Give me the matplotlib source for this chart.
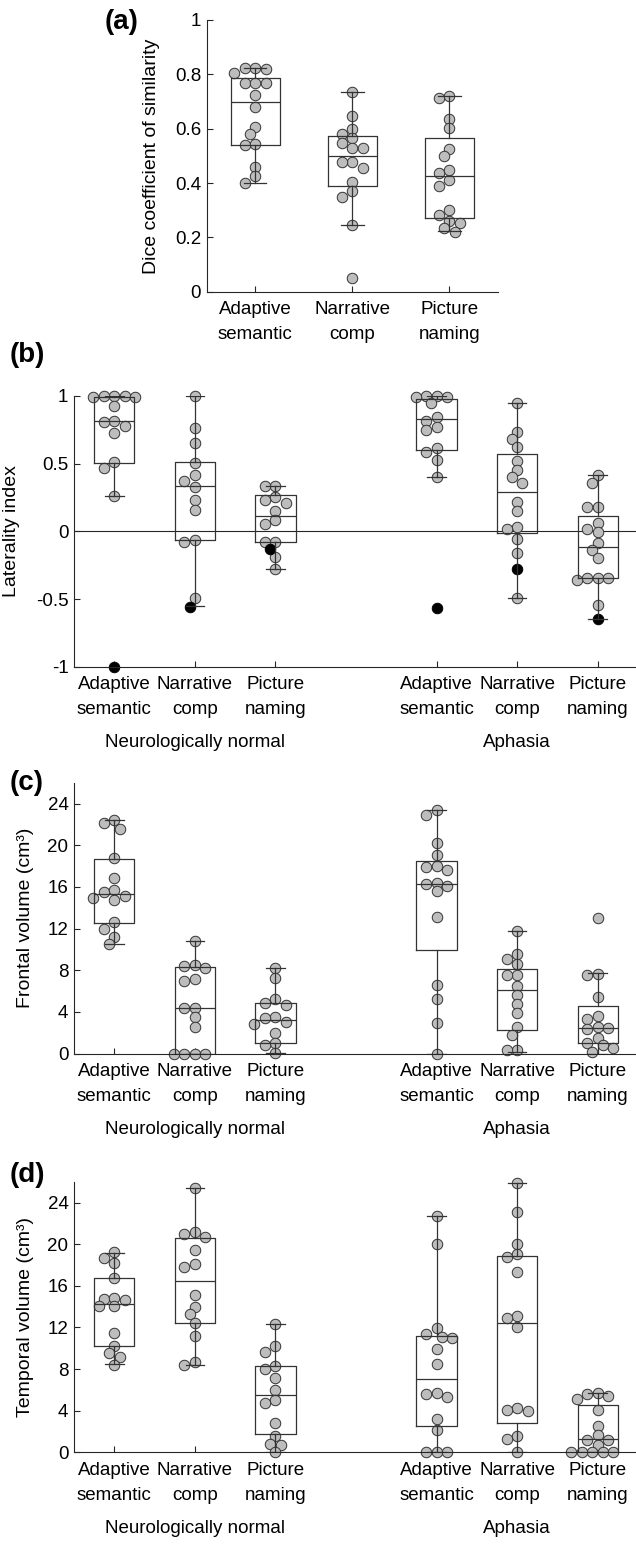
import numpy as np
import matplotlib
matplotlib.use("Agg")
import matplotlib.pyplot as plt

plt.rcParams['font.family'] = ['Liberation Sans', 'DejaVu Sans']

# ---------------- data ----------------
tasks = ["Adaptive\nsemantic", "Narrative\ncomp", "Picture\nnaming"]
groups = ["Neurologically normal", "Aphasia"]

# (a) Dice coefficient
a_adapt = [0.804, 0.822, 0.818, 0.822, 0.767, 0.767, 0.769, 0.724, 0.678, 0.607, 0.582, 0.539, 0.542, 0.459, 0.425, 0.401]
a_narr = [0.736, 0.647, 0.600, 0.582, 0.567, 0.549, 0.529, 0.529, 0.455, 0.478, 0.478, 0.404, 0.370, 0.348, 0.244, 0.049]
a_pict = [0.714, 0.720, 0.636, 0.604, 0.524, 0.498, 0.412, 0.437, 0.447, 0.388, 0.302, 0.281, 0.260, 0.254, 0.235, 0.219]
a_q1 = [0.539, 0.390, 0.272]
a_med = [0.700, 0.500, 0.426]
a_q3 = [0.785, 0.574, 0.564]
a_lo = [0.401, 0.246, 0.222]
a_hi = [0.822, 0.736, 0.720]

# (b) Laterality index
b_nn_adapt = [1.0, 1.0, 1.0, 0.995, 0.995, 0.926, 0.815, 0.81, 0.775, 0.724, 0.51, 0.47, 0.264]
b_nn_narr = [1.0, 0.766, 0.65, 0.507, 0.416, 0.37, 0.33, 0.235, 0.158, -0.064, -0.081, -0.495]
b_nn_pict = [0.335, 0.335, 0.256, 0.232, 0.21, 0.15, 0.084, 0.054, -0.076, -0.076, -0.192, -0.276]
b_aph_adapt = [1.0, 1.0, 0.995, 0.995, 0.946, 0.847, 0.818, 0.773, 0.749, 0.618, 0.589, 0.527, 0.399]
b_aph_narr = [0.946, 0.736, 0.68, 0.62, 0.52, 0.453, 0.40, 0.36, 0.22, 0.15, 0.034, 0.02, -0.06, -0.163, -0.49]
b_aph_pict = [0.416, 0.355, 0.177, 0.177, 0.059, 0.015, -0.005, -0.089, -0.138, -0.2, -0.342, -0.342, -0.345, -0.36, -0.544]
b_black = [-1.0, -0.557, -0.128, -0.564, -0.281, -0.648]
b_q1 = [0.502, -0.064, -0.079, 0.60, -0.015, -0.347]
b_med = [0.818, 0.335, 0.116, 0.83, 0.288, -0.113]
b_q3 = [0.99, 0.51, 0.268, 0.975, 0.569, 0.113]
b_lo = [0.264, -0.552, -0.276, 0.40, -0.49, -0.648]
b_hi = [1.0, 1.0, 0.335, 1.0, 0.946, 0.416]

# (c) Frontal volume
c_nn_adapt = [22.1, 22.4, 21.6, 18.75, 16.9, 15.5, 15.7, 15.1, 14.7, 14.9, 12.6, 12.0, 11.2, 10.55]
c_nn_narr = [10.77, 8.5, 8.4, 8.26, 7.14, 6.98, 4.33, 4.4, 3.53, 2.57, 0, 0, 0, 0]
c_nn_pict = [8.26, 7.27, 5.2, 4.87, 4.65, 3.47, 3.44, 3.05, 2.83, 2.0, 1.0, 0.8, 0.05]
c_aph_adapt = [23.4, 22.9, 20.2, 19.1, 17.95, 18.05, 17.66, 16.3, 16.4, 16.07, 15.56, 13.1, 6.63, 5.2, 2.96, 0]
c_aph_narr = [11.77, 9.6, 9.05, 8.64, 7.59, 7.59, 6.47, 5.6, 4.75, 3.85, 2.57, 1.8, 0.3, 0.3]
c_aph_pict = [13.04, 7.59, 7.68, 5.45, 3.28, 3.6, 2.6, 2.5, 2.4, 1.5, 1.0, 0.8, 0.5, 0.2]
c_q1 = [12.56, 0, 1.0, 9.9, 2.25, 1.0]
c_med = [15.35, 4.33, 3.2, 16.3, 6.08, 2.48]
c_q3 = [18.7, 8.29, 4.87, 18.5, 8.1, 4.55]
c_lo = [10.55, 0, 0.05, 0, 0.2, 0]
c_hi = [22.4, 10.77, 8.26, 23.4, 11.77, 7.7]

# (d) Temporal volume
d_nn_adapt = [19.2, 18.7, 18.2, 16.7, 14.74, 14.68, 14.87, 14.04, 14.04, 11.42, 10.2, 9.56, 9.18, 8.38]
d_nn_narr = [25.4, 21.17, 20.7, 20.95, 19.47, 18.13, 17.8, 15.1, 13.97, 13.27, 12.44, 11.16, 8.7, 8.38]
d_nn_pict = [12.28, 10.2, 9.66, 8.28, 7.96, 7.16, 5.98, 5.02, 4.76, 2.85, 1.57, 0.8, 0.7, 0]
d_aph_adapt = [22.67, 19.99, 11.9, 11.4, 11.0, 11.1, 9.88, 8.47, 5.56, 5.66, 5.28, 3.2, 2.14, 0, 0, 0]
d_aph_narr = [25.9, 23.09, 19.99, 18.77, 19.1, 17.3, 13.08, 12.86, 12.06, 4.28, 3.97, 4.06, 1.57, 1.25, 0]
d_aph_pict = [5.72, 5.56, 5.4, 5.08, 4.06, 2.53, 1.66, 1.18, 1.18, 0.7, 0, 0, 0, 0, 0]
d_q1 = [10.23, 12.47, 1.76, 2.56, 2.78, 0]
d_med = [14.26, 16.44, 5.5, 7.0, 12.47, 1.28]
d_q3 = [16.7, 20.63, 8.28, 11.16, 18.9, 4.54]
d_lo = [8.44, 8.4, 0, 0, 0, 0]
d_hi = [19.15, 25.4, 12.28, 22.67, 25.9, 5.72]

# ---------------- figure ----------------
W, H = 636, 1544
fig = plt.figure(figsize=(W / 100, H / 100), dpi=100)

def add_axes_px(left, right, top, bottom):
    return fig.add_axes([left / W, 1 - bottom / H, (right - left) / W, (bottom - top) / H])

DIAM = 10.5
MS = (DIAM * 72 / 100) ** 2
GRAY = '#bdbdbd'
LINEC = '#333333'
TICKFS = 13.5
LABELFS = 14
LSP = 1.6

def swarm_offsets(vals, ppy, diam=DIAM, mind=0.8):
    vals = np.asarray(vals, float)
    order = np.argsort(-vals, kind='stable')
    placed = []
    offs = np.zeros(len(vals))
    step = diam * 0.5
    for i in order:
        y = vals[i] * ppy
        chosen = 0.0
        for k in range(0, 40):
            cands = [0.0] if k == 0 else [-k * step, k * step]
            ok = None
            for x in cands:
                if all((x - px) ** 2 + (y - py) ** 2 >= (mind * diam) ** 2 for px, py in placed):
                    ok = x
                    break
            if ok is not None:
                chosen = ok
                break
        placed.append((chosen, y))
        offs[i] = chosen
    return offs

def style_axes(ax):
    for s in ['top', 'right']:
        ax.spines[s].set_visible(False)
    for s in ['left', 'bottom']:
        ax.spines[s].set_color('#262626')
        ax.spines[s].set_linewidth(0.8)
    ax.tick_params(direction='in', length=4, width=0.8, color='#262626',
                   labelsize=TICKFS, pad=4)
    ax.tick_params(axis='x', pad=7)

def draw_panel(ax, positions, datasets, blacks, q1, med, q3, lo, hi, ylim, ax_px_w, ax_px_h, xlim):
    ppx = ax_px_w / (xlim[1] - xlim[0])
    ppy = ax_px_h / (ylim[1] - ylim[0])
    for k, (pos, vals) in enumerate(zip(positions, datasets)):
        allv = list(vals)
        if blacks is not None:
            allv = allv + [blacks[k]]
        offs = swarm_offsets(allv, ppy)
        xs = pos + offs / ppx
        n = len(vals)
        ax.scatter(xs[:n], vals, s=MS, facecolor=GRAY, edgecolor='#333333',
                   linewidth=0.7, zorder=2, clip_on=False)
        if blacks is not None:
            ax.scatter(xs[n:], [blacks[k]], s=MS, facecolor='black', edgecolor='black',
                       linewidth=0.7, zorder=2, clip_on=False)
    stats = [dict(q1=q1[i], med=med[i], q3=q3[i], whislo=lo[i], whishi=hi[i], fliers=[])
             for i in range(len(positions))]
    lp = dict(color=LINEC, linewidth=0.9)
    ax.bxp(stats, positions=positions, widths=0.5, capwidths=0.23, showfliers=False,
           boxprops=lp, whiskerprops=lp, capprops=lp, medianprops=lp,
           manage_ticks=False, zorder=3)
    ax.set_xlim(*xlim)
    ax.set_ylim(*ylim)

# ---- (a) ----
aL, aR, aT, aB = 206.7, 498.0, 20.0, 291.7
axa = add_axes_px(aL, aR, aT, aB)
style_axes(axa)
draw_panel(axa, [1, 2, 3], [a_adapt, a_narr, a_pict], None, a_q1, a_med, a_q3, a_lo, a_hi,
           (0, 1), aR - aL, aB - aT, (0.5, 3.5))
axa.set_xticks([1, 2, 3])
axa.set_xticklabels(tasks, linespacing=LSP)
axa.set_yticks([0, 0.2, 0.4, 0.6, 0.8, 1])
axa.set_yticklabels(['0', '0.2', '0.4', '0.6', '0.8', '1'])
axa.set_ylabel('Dice coefficient of similarity', fontsize=LABELFS)
axa.yaxis.set_label_coords(-(aL - 160) / (aR - aL), 0.5)
fig.text(105 / W, 1 - 22 / H, '(a)', fontsize=20, fontweight='bold', va='center', ha='left')

# ---- grouped panels ----
gpos = [1, 2, 3, 5, 6, 7]
gL, gR = 74.0, 638.0
gx = (0.5, 7.5)

def group_labels(ax, ax_h):
    ax.set_xticks(gpos)
    ax.set_xticklabels(tasks * 2, linespacing=LSP)
    ax.text(2, -76 / ax_h, groups[0], transform=ax.get_xaxis_transform(),
            ha='center', va='center', fontsize=TICKFS)
    ax.text(6, -76 / ax_h, groups[1], transform=ax.get_xaxis_transform(),
            ha='center', va='center', fontsize=TICKFS)

# (b)
bT, bB = 396.0, 666.7
axb = add_axes_px(gL, gR, bT, bB)
style_axes(axb)
axb.axhline(0, color='#262626', linewidth=0.8, zorder=1)
draw_panel(axb, gpos, [b_nn_adapt, b_nn_narr, b_nn_pict, b_aph_adapt, b_aph_narr, b_aph_pict],
           b_black, b_q1, b_med, b_q3, b_lo, b_hi, (-1, 1), gR - gL, bB - bT, gx)
axb.set_yticks([-1, -0.5, 0, 0.5, 1])
axb.set_yticklabels(['-1', '-0.5', '0', '0.5', '1'])
group_labels(axb, bB - bT)
axb.set_ylabel('Laterality index', fontsize=LABELFS)
axb.yaxis.set_label_coords(-(gL - 20) / (gR - gL), 0.5)
fig.text(10 / W, 1 - 355 / H, '(b)', fontsize=20, fontweight='bold', va='center', ha='left')

# (c)
cT, cB = 782.7, 1053.6
axc = add_axes_px(gL, gR, cT, cB)
style_axes(axc)
draw_panel(axc, gpos, [c_nn_adapt, c_nn_narr, c_nn_pict, c_aph_adapt, c_aph_narr, c_aph_pict],
           None, c_q1, c_med, c_q3, c_lo, c_hi, (0, 26), gR - gL, cB - cT, gx)
axc.set_yticks([0, 4, 8, 12, 16, 20, 24])
group_labels(axc, cB - cT)
axc.set_ylabel('Frontal volume (cm³)', fontsize=LABELFS)
axc.yaxis.set_label_coords(-(gL - 34) / (gR - gL), 0.5)
fig.text(10 / W, 1 - 783 / H, '(c)', fontsize=20, fontweight='bold', va='center', ha='left')

# (d)
dT, dB = 1181.7, 1452.3
axd = add_axes_px(gL, gR, dT, dB)
style_axes(axd)
draw_panel(axd, gpos, [d_nn_adapt, d_nn_narr, d_nn_pict, d_aph_adapt, d_aph_narr, d_aph_pict],
           None, d_q1, d_med, d_q3, d_lo, d_hi, (0, 26), gR - gL, dB - dT, gx)
axd.set_yticks([0, 4, 8, 12, 16, 20, 24])
group_labels(axd, dB - dT)
axd.set_ylabel('Temporal volume (cm³)', fontsize=LABELFS)
axd.yaxis.set_label_coords(-(gL - 34) / (gR - gL), 0.5)
fig.text(10 / W, 1 - 1175 / H, '(d)', fontsize=20, fontweight='bold', va='center', ha='left')

fig.savefig('out.png', dpi=100)
